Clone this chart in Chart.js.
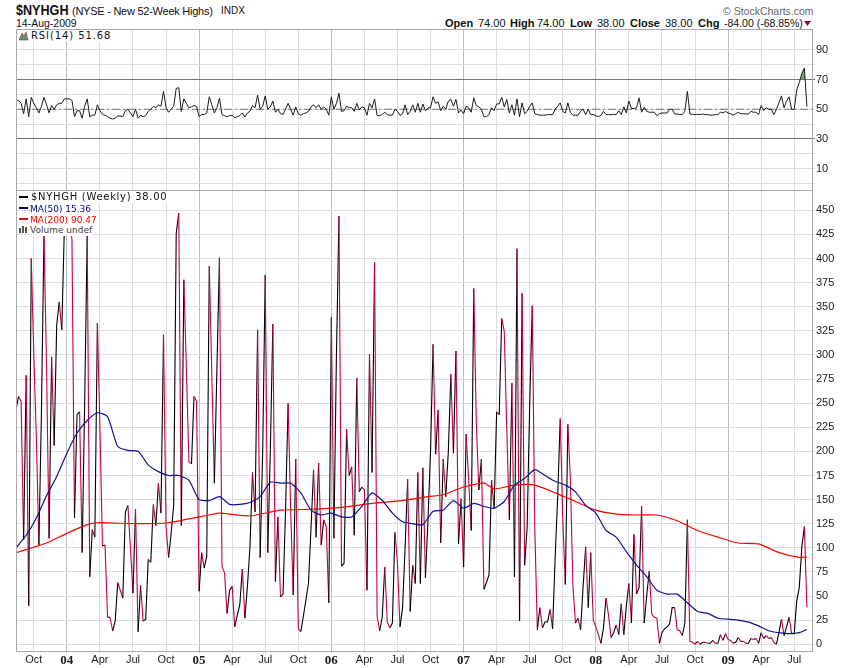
<!DOCTYPE html>
<html>
<head>
<meta charset="utf-8">
<title>$NYHGH</title>
<script src="https://cdn.jsdelivr.net/npm/chart.js@4/dist/chart.umd.js"></script>
<style>
  html, body { margin: 0; padding: 0; background: #fff; }
  body { position: relative; width: 850px; height: 668px; overflow: hidden; font-family: "Liberation Sans", Arial, sans-serif; color: #111; }
  canvas { position: absolute; left: 0; }
  .txt { position: absolute; white-space: nowrap; line-height: 12px; }
  .b { font-weight: bold; }
  .leg { font-family: "DejaVu Sans", sans-serif; font-size: 10px; background: #fff; padding-right: 1px; }
  .dash { position: absolute; left: 19px; width: 9px; height: 2px; }
</style>
</head>
<body>
<div class="txt b" style="left:16px;top:3px;font-size:14px;line-height:14px;transform:scaleX(.9);transform-origin:left">$NYHGH</div>
<div class="txt" style="left:72px;top:4px;font-size:11px;line-height:14px;letter-spacing:-.25px">(NYSE - New 52-Week Highs)</div>
<div class="txt" style="left:221px;top:5px;font-size:10px">INDX</div>
<div class="txt" style="left:16px;top:17px;font-size:10.5px">14-Aug-2009</div>
<div class="txt" style="left:723px;top:5px;font-size:10.5px;color:#666">&copy; StockCharts.com</div>
<div class="txt b" style="left:445px;top:17px;font-size:11px">Open</div>
<div class="txt" style="left:478px;top:17px;font-size:11px">74.00</div>
<div class="txt b" style="left:510px;top:17px;font-size:11px">High</div>
<div class="txt" style="left:537px;top:17px;font-size:11px">74.00</div>
<div class="txt b" style="left:570px;top:17px;font-size:11px">Low</div>
<div class="txt" style="left:597px;top:17px;font-size:11px">38.00</div>
<div class="txt b" style="left:630px;top:17px;font-size:11px">Close</div>
<div class="txt" style="left:665px;top:17px;font-size:11px">38.00</div>
<div class="txt b" style="left:698px;top:17px;font-size:11px">Chg</div>
<div class="txt" style="left:724px;top:17px;font-size:10.5px">-84.00 (-68.85%)</div>
<svg style="position:absolute;left:804px;top:21px" width="8" height="6"><polygon points="0,0 7,0 3.5,5" fill="#8b0a2e"/></svg>

<canvas id="rsiChart" style="top:29px" width="850" height="162"></canvas>
<canvas id="priceChart" style="top:190px" width="850" height="478"></canvas>

<svg style="position:absolute;left:19px;top:31px" width="10" height="10"><polygon points="0,9 3,2 5,5 7,1 9,9" fill="#6f8f6f" stroke="#333" stroke-width=".5"/></svg>
<div class="txt leg" style="left:31px;top:30px;letter-spacing:.9px">RSI(14) 51.68</div>

<div class="dash" style="top:196px;background:#000"></div>
<div class="txt leg" style="left:31px;top:191px;letter-spacing:.7px">$NYHGH (Weekly) 38.00</div>
<div class="dash" style="top:207px;background:#00008b"></div>
<div class="txt leg" style="left:30px;top:203px;color:#00008b;font-size:9px">MA(50) 15.36</div>
<div class="dash" style="top:218px;background:#f00"></div>
<div class="txt leg" style="left:30px;top:214px;color:#f00;font-size:9px">MA(200) 90.47</div>
<svg style="position:absolute;left:19px;top:225px" width="10" height="9"><path d="M0,8V3h2v5zM3,8V1h2v7zM6,8V2h2v6z" fill="#555"/></svg>
<div class="txt leg" style="left:30px;top:224px;color:#444;font-size:9px">Volume undef</div>

<script>
// x axis, in weeks from the first bar
const monthWeeks = [7, 20, 33, 46, 59, 72, 85, 98, 111, 124, 137, 150, 163, 176, 189, 202, 215, 228, 241, 254, 267, 280, 293, 306];
const monthLabels = ["Oct", "04", "Apr", "Jul", "Oct", "05", "Apr", "Jul", "Oct", "06", "Apr", "Jul", "Oct", "07", "Apr", "Jul", "Oct", "08", "Apr", "Jul", "Oct", "09", "Apr", "Jul"];

const priceTicks = [0, 25, 50, 75, 100, 125, 150, 175, 200, 225, 250, 275, 300, 325, 350, 375, 400, 425, 450];
const rsiTicks = [0, 10, 20, 30, 40, 50, 60, 70, 80, 90];

// weekly closes
const nyhgh = [
  243,257,252,108,279,40,400,300,215,103,
  240,424,290,110,298,206,331,355,326,430,
  445,440,420,131,238,241,95,250,424,70,
  119,111,333,225,102,103,28,28,14,24,
  64,56,48,137,144,100,53,140,13,61,
  24,26,88,85,145,123,167,136,321,122,
  90,115,144,426,447,123,378,285,189,187,
  257,252,55,95,79,91,392,280,167,285,
  401,81,74,32,56,60,18,30,41,78,
  27,60,101,178,137,326,90,200,383,95,
  200,332,65,132,49,52,140,250,140,51,
  192,16,13,29,46,63,120,181,111,188,
  103,129,122,43,339,110,300,444,81,84,
  223,175,184,113,276,158,163,160,56,301,
  178,396,29,14,28,80,23,17,22,116,
  84,18,38,100,171,34,82,63,178,63,
  183,69,129,200,311,197,243,105,192,153,
  200,280,198,304,104,151,80,218,170,118,
  369,230,160,192,57,64,72,170,141,241,
  238,338,324,220,129,271,70,410,24,364,
  82,122,250,351,120,15,38,17,23,23,
  36,16,90,153,234,130,62,228,170,60,
  22,27,15,60,101,38,95,25,18,10,
  1,17,48,30,7,12,20,10,42,10,
  40,63,22,114,52,59,143,22,50,76,
  31,28,27,1,12,16,18,21,38,38,
  15,14,9,22,129,3,2,0,3,0,
  2,2,1,1,4,1,1,10,4,11,
  5,4,1,2,7,3,3,1,1,6,
  5,6,1,12,6,9,6,7,2,0,
  12,26,9,18,28,11,11,45,59,101,
  122,38
];

const rsi14 = [
  56,56,54,47,57,45,58,54,51,47.5,
  52,58,53,47.5,52.5,50,53,54,54,57,
  57,57,56,45,49,49,44,52,57,45,
  46,46,53,49,46.6,46,45,44,43.4,44,
  45.5,45.5,45,49,50,47.5,45,50,44,46,
  45,45.7,48.6,50,52,51,53,52,62,51,
  48,50,52,64,64.5,48.6,57,54,51,51.6,
  52.5,52,45,46.6,46.4,47.5,58.4,53,47.5,51,
  57.5,46.4,45.7,45,45.7,46,44.3,45,45.7,47.5,
  44.8,47.5,48.6,52.5,51,59.5,50,52,59,50,
  51.6,55.5,48,50,47,46.6,50,54,50,46,
  51.6,47,46,47,47.5,48.6,51.6,53,51,53,
  50,51.6,50,46,58.4,50,54,60.7,48.6,49,
  52,51,51,48.6,54,49.5,51.6,51,46,54,
  51,57,45.7,45.7,46.4,48,46.4,46,46,50,
  48.6,46,47,53,46.4,48.6,53,48,54,48,
  53.5,49,51,51,58.4,54,55,49,52,50,
  55.5,56.6,52,56.6,47.5,49.5,47,52,51,48,
  57.7,52.5,51.6,50,45,45,46.4,51,49,53.6,
  53.6,58,51.6,56.6,47.5,53,46,57,45,54.3,
  47,48.6,52,54.3,47,46.4,46,46,46,46.4,
  46.4,46.4,50,52,54.3,48.6,47.5,54.3,48,46,
  46,46,48.6,50,46.4,50,46.4,46.4,45.7,45,
  46,48.6,46.4,46.4,46.4,46.6,46.4,49,46.4,51.6,
  47.5,55.5,50.5,50.5,51,57.7,48,51.4,48.6,48,
  48,48,45.7,47,47.5,47.5,47.5,50,50,46.8,
  46.8,46.4,46.4,48.6,62,46.8,46.6,46.4,46.6,46.4,
  46.8,46.4,46.4,46,46,46.4,46.4,48,47.5,48.6,
  47.5,47,46,47,48,47,47,46.8,46.8,48.6,
  48,48,46.4,52.5,49.3,51,50,50,46.4,50,
  54.3,59,51,55.5,58.4,50,49.8,63,68,74,
  77.7,51.68
];

// moving averages read at a coarser step
const ma50Weeks = [0,4,8,12,16,20,24,28,32,36,40,44,48,52,56,60,64,68,72,76,80,84,88,92,96,100,104,108,112,116,120,124,128,132,136,140,144,148,152,156,160,164,168,172,176,180,184,188,192,196,200,204,208,212,216,220,224,228,232,236,240,244,248,252,256,260,264,268,272,276,280,284,288,292,296,300,304,308,311];
const ma50 = [100,113,131,154,174,198,219,232,240,236,205,201,200,186,179,175,175,170,150,149,153,145,145,147,153,168,167,167,157,139,134,136,132,132,143,157,149,136,127,125,124,138,139,149,141,146,143,141,148,165,172,181,175,169,165,158,144,136,118,111,96,82,70,56,52,52,43,34,32,27,26,25,23,19,14,12,11,12,15.36];

const ma200Weeks = [0,12,20,28,32,48,60,68,76,80,92,104,116,128,140,152,162,168,176,184,188,196,204,212,220,228,236,244,252,260,268,276,284,292,300,308,311];
const ma200 = [95,105,115,124,126,125,126,130,134,136,133,139,140,142,146,149,153,155,163,167,161,165,165,157,148,139,135,134,134,128,118,111,105,104,95,90,90.47];

const gridLight = "#dcdcdc";
const gridYear = "#bcbcbc";
const frameColor = "#aaaaaa";
const upColor = "#000000";
const downColor = "#c8003c";

const toPoints = (weeks, vals) => vals.map((v, i) => ({ x: weeks ? weeks[i] : i, y: v }));
const isYear = (c) => !!c.tick && (monthLabels[monthWeeks.indexOf(c.tick.value)] || "").length === 2;

const framePlugin = {
  id: "frame",
  afterDraw(chart) {
    const { ctx, chartArea: a } = chart;
    ctx.save();
    ctx.strokeStyle = frameColor;
    ctx.lineWidth = 1;
    ctx.strokeRect(a.left + .5, a.top + .5, a.right - a.left, a.bottom - a.top);
    ctx.restore();
  }
};

function xScale(showLabels) {
  return {
    type: "linear",
    min: 0,
    max: 313,
    afterBuildTicks: (s) => { s.ticks = monthWeeks.map(v => ({ value: v })); },
    afterFit: (s) => { s.height = showLabels ? 17 : 0; s.paddingLeft = 0; s.paddingRight = 0; },
    grid: {
      color: (c) => isYear(c) ? gridYear : gridLight,
      tickLength: showLabels ? 2 : 0,
      drawTicks: showLabels
    },
    border: { color: frameColor },
    ticks: {
      display: showLabels,
      autoSkip: false,
      maxRotation: 0,
      padding: 0,
      color: "#222",
      font: (c) => isYear(c)
        ? { family: "'Liberation Serif', serif", size: 13, weight: "bold" }
        : { family: "'Liberation Sans', Arial, sans-serif", size: 11 },
      callback: (v, i) => monthLabels[i]
    }
  };
}

function yFit(s) {
  s.width = 38;
  s.paddingTop = 0;
  s.paddingBottom = 0;
}

function baseOptions(scales) {
  return {
    responsive: false,
    animation: false,
    layout: { padding: { left: 16, right: 0, top: 0, bottom: 0 } },
    plugins: { legend: { display: false }, tooltip: { enabled: false } },
    elements: { point: { radius: 0 } },
    scales
  };
}

new Chart(document.getElementById("rsiChart"), {
  type: "line",
  plugins: [framePlugin],
  data: {
    datasets: [
      {
        data: toPoints(null, rsi14),
        borderColor: "#1c1c1c",
        borderWidth: 1,
        tension: 0,
        fill: { value: 70, above: "#7d9c7d", below: "rgba(0,0,0,0)" }
      },
      {
        data: [{ x: 0, y: 50 }, { x: 313, y: 50 }],
        borderColor: "#777",
        borderWidth: 1,
        borderDash: [8, 3, 2, 3]
      }
    ]
  },
  options: baseOptions({
    x: xScale(false),
    y: {
      position: "right",
      min: -5,
      max: 104,
      afterBuildTicks: (s) => { s.ticks = rsiTicks.map(v => ({ value: v })); },
      afterFit: yFit,
      grid: {
        color: (c) => (c.tick && (c.tick.value === 70 || c.tick.value === 30)) ? "#707070" : gridLight,
        tickLength: 3
      },
      border: { color: frameColor },
      ticks: {
        autoSkip: false,
        padding: 1,
        color: "#222",
        font: { family: "'Liberation Sans', Arial, sans-serif", size: 11 },
        callback: (v) => (v / 10) % 2 === 1 ? v : ""
      }
    }
  })
});

new Chart(document.getElementById("priceChart"), {
  type: "line",
  plugins: [framePlugin],
  data: {
    datasets: [
      { data: toPoints(ma50Weeks, ma50), borderColor: "#10109a", borderWidth: 1.2, tension: 0.2 },
      { data: toPoints(ma200Weeks, ma200), borderColor: "#ff0000", borderWidth: 1.2, tension: 0.2 },
      {
        data: toPoints(null, nyhgh),
        borderWidth: 1.1,
        tension: 0,
        borderColor: upColor,
        segment: {
          borderColor: (c) => c.p1.parsed.y >= c.p0.parsed.y ? upColor : downColor
        }
      }
    ]
  },
  options: baseOptions({
    x: xScale(true),
    y: {
      position: "right",
      min: -7,
      max: 471,
      afterBuildTicks: (s) => { s.ticks = priceTicks.map(v => ({ value: v })); },
      afterFit: yFit,
      grid: { color: gridLight, tickLength: 3 },
      border: { color: frameColor },
      ticks: {
        autoSkip: false,
        padding: 1,
        color: "#222",
        font: { family: "'Liberation Sans', Arial, sans-serif", size: 11 }
      }
    }
  })
});
</script>
</body>
</html>
